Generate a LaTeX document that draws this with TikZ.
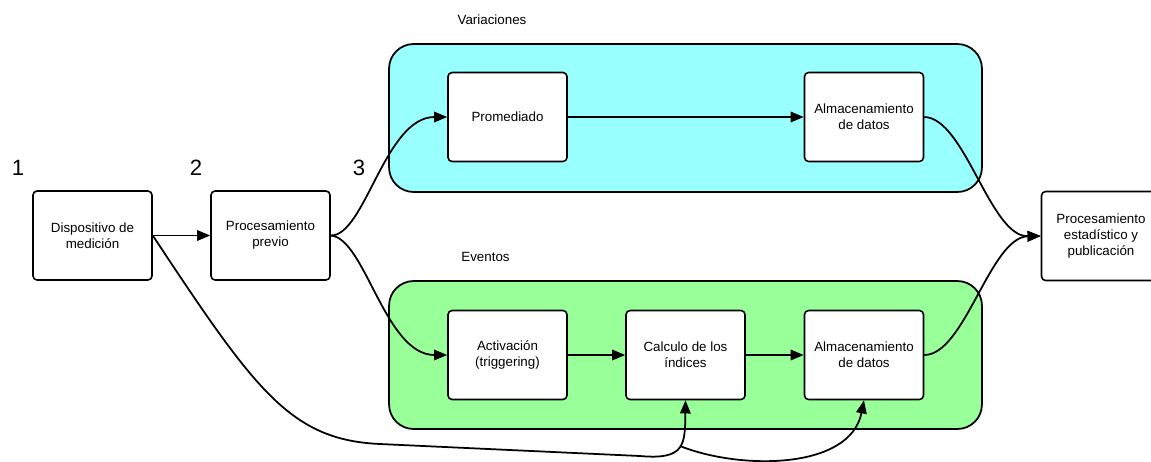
\documentclass[tikz,border=0pt]{standalone}
\usepackage{fontspec}
\setmainfont{Liberation Sans}
\usetikzlibrary{arrows.meta}

\begin{document}
\begin{tikzpicture}[x=0.02cm,y=-0.02cm,
  caja/.style={draw,fill=white,rounded corners=2.3pt,line width=0.9pt,minimum width=2.38cm,minimum height=1.78cm,align=center,inner sep=1pt,font=\fontsize{7.6}{9.1}\selectfont},
  grupo/.style={draw,rounded corners=14pt,line width=1pt,minimum width=11.86cm,minimum height=2.96cm},
  titulo/.style={font=\fontsize{7.6}{9.1}\selectfont},
  paso/.style={font=\fontsize{12.6}{15}\selectfont},
  flecha/.style={-{Triangle[length=7.5pt,width=6pt]},line width=1pt}]
\definecolor{celeste}{HTML}{99FFFF}
\definecolor{verdeclaro}{HTML}{99FF99}
\useasboundingbox (0,0) rectangle (1151,461);

% los dos grupos de procesamiento
\node[grupo,fill=celeste] (variaciones) at (685.5,118) {};
\node[grupo,fill=verdeclaro] (eventos) at (685.5,355) {};
\node[titulo] (tvar) at (492,20) {Variaciones};
\node[titulo] (tev) at (485.5,257) {Eventos};

  \foreach \n/\px in {1/18,2/196,3/359}
  {  \node[paso] (paso\n) at (\px,168) {\n};}

  \foreach \nm/\px/\py/\txt in {disp/92.5/235.5/{Dispositivo de\\medición},
      previo/270.5/235.5/{Procesamiento\\previo},
      prom/507.5/117/{Promediado},
      almv/864/117/{Almacenamiento\\de datos},
      activ/507.5/355/{Activación\\(triggering)},
      calc/685.5/355/{Calculo de los\\índices},
      alme/864/355/{Almacenamiento\\de datos},
      final/1101/236/{Procesamiento\\estadístico y\\publicación}}
  {  \node[caja] (\nm) at (\px,\py) {\txt};}

\draw[flecha] (disp.east) -- (previo.west);
\draw[flecha] (previo.east) .. controls (365,236) and (385,117) .. (prom.west);
\draw[flecha] (previo.east) .. controls (365,238) and (385,355) .. (activ.west);
\draw[flecha] (prom) -- (almv);
\draw[flecha] (activ) -- (calc);
\draw[flecha] (calc) -- (alme);
\draw[flecha] (almv.east) .. controls (965,118) and (990,237) .. (final.west);
\draw[flecha] (alme.east) .. controls (965,355) and (990,237) .. (final.west);

% linea de abajo, directa desde el dispositivo
\coordinate (ramal) at (680,446);
\draw[flecha] (disp.east) .. controls (255,390) and (290,440) .. (380,444) -- (640,456)
  .. controls (685,460) and (685,445) .. (calc.south);
\draw[flecha] (ramal) .. controls (740,470) and (850,470) .. (alme.south);
\end{tikzpicture}
\end{document}
